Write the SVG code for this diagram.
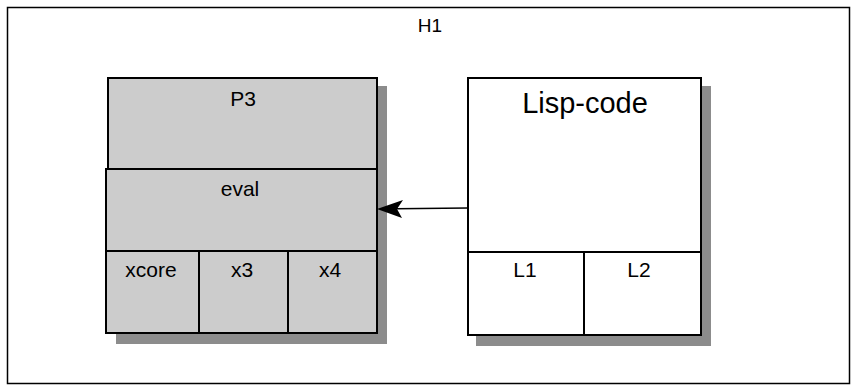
<svg xmlns="http://www.w3.org/2000/svg" width="851" height="388" viewBox="0 0 851 388">
<style>
.box{stroke:#000;stroke-width:2;}
.shadow{fill:#8c8c8c;stroke:none;}
.gray{fill:#cccccc;}
.white{fill:#ffffff;}
.t{font-family:"Liberation Sans",Arial,sans-serif;font-size:21px;fill:#000;text-anchor:middle;}
.big{font-size:29px;}
.h{font-size:19px;}
.conn{stroke:#000;stroke-width:1.5;fill:none;}
</style>
<rect x="0" y="0" width="851" height="388" fill="#ffffff"/>
<g id="H1">
<rect x="7.5" y="7.5" width="842" height="376" fill="#ffffff" stroke="#000" stroke-width="1.5"/>
<text class="t h" x="430" y="32">H1</text>
</g>
<g id="P3">
<rect class="shadow" x="116" y="86" width="271" height="258"/>
<rect class="box gray" x="108" y="78" width="269" height="91"/>
<text class="t" x="243" y="106">P3</text>
</g>
<g id="eval">
<rect class="box gray" x="106" y="169" width="271" height="82"/>
<text class="t" x="240" y="196">eval</text>
</g>
<g id="xcore">
<rect class="box gray" x="106" y="251" width="93" height="82"/>
<text class="t" x="151" y="277">xcore</text>
</g>
<g id="x3">
<rect class="box gray" x="199" y="251" width="89" height="82"/>
<text class="t" x="242" y="277">x3</text>
</g>
<g id="x4">
<rect class="box gray" x="288" y="251" width="89" height="82"/>
<text class="t" x="330" y="277">x4</text>
</g>
<g id="Lisp-code">
<rect class="shadow" x="476" y="86" width="235" height="260"/>
<rect class="box white" x="468" y="78" width="233" height="257"/>
<text class="t big" x="585" y="113">Lisp-code</text>
</g>
<g id="L1">
<rect class="box white" x="468" y="252" width="116" height="83"/>
<text class="t" x="525" y="277">L1</text>
</g>
<g id="L2">
<rect class="box white" x="584" y="252" width="117" height="83"/>
<text class="t" x="639" y="277">L2</text>
</g>
<g id="connectors">
<line class="conn" x1="468" y1="208" x2="396" y2="208.8"/>
<polygon points="377,209 403,200 397,209 402,218" fill="#000"/>
</g>
</svg>
